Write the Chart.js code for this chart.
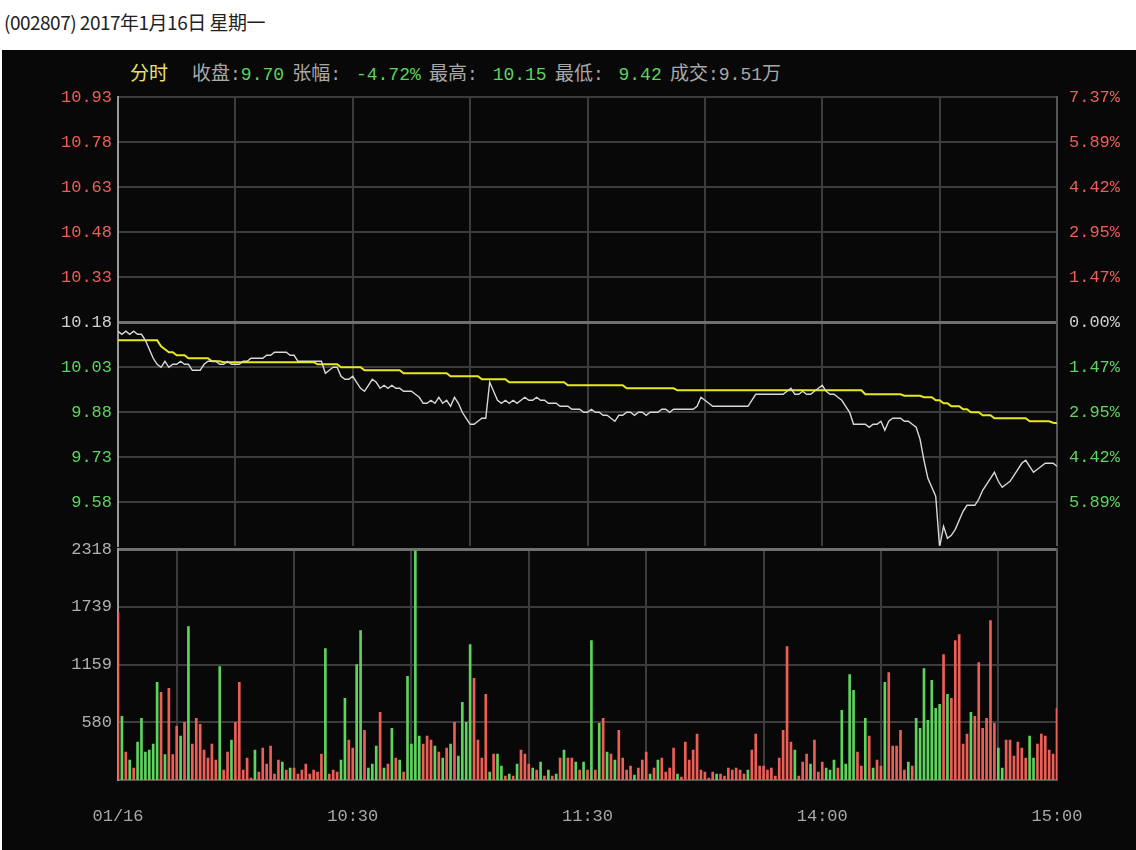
<!DOCTYPE html>
<html><head><meta charset="utf-8">
<script src="https://cdn.jsdelivr.net/npm/chart.js@4"></script>
<style>
body{margin:0;background:#fff;width:1136px;height:850px;overflow:hidden;position:relative;font-family:"Noto Sans CJK SC","Noto Sans",sans-serif}
#title{position:absolute;left:4px;top:8px;font-size:19px;color:#222;letter-spacing:-0.5px}
#panel{position:absolute;left:2px;top:50px;width:1134px;height:800px;background:#080808}
#hdr{position:absolute;left:130px;top:58px;font-size:19px;color:#a8a8a8;white-space:nowrap;word-spacing:4px}
#hdr .n{font-family:"Liberation Mono",monospace;font-size:18px}
#hdr .g{color:#5ed35e}
#hdr .y{color:#e6e070;margin-right:24px}
canvas{position:absolute;left:0}
</style></head><body>
<div id="title">(002807) 2017年1月16日 星期一</div>
<div id="panel"></div>
<div id="hdr"><span class="y">分时</span>收盘<span class="n">:</span><span class="n g">9.70</span> 张幅<span class="n">: </span><span class="n g">-4.72%</span> 最高<span class="n">: </span><span class="n g">10.15</span> 最低<span class="n">: </span><span class="n g">9.42</span> 成交<span class="n">:9.51</span>万</div>
<div style="position:absolute;left:0;top:81px;width:1136px;height:481px"><canvas id="c1"></canvas></div>
<div style="position:absolute;left:0;top:533px;width:1136px;height:317px"><canvas id="c2"></canvas></div>
<script>
const timeLabels=['01/16','','10:30','','11:30','','14:00','','15:00'];
const priceTicks=[10.93,10.78,10.63,10.48,10.33,10.18,10.03,9.88,9.73,9.58];
const pctLabels=['7.37%','5.89%','4.42%','2.95%','1.47%','0.00%','1.47%','2.95%','4.42%','5.89%'];
const volTicks=[580,1159,1739,2318];
const price=[10.15,10.14,10.15,10.14,10.15,10.14,10.14,
10.12,10.09,10.06,10.04,10.03,
10.05,10.03,10.04,10.04,10.05,10.04,10.04,
10.02,10.02,10.02,10.04,
10.05,10.05,10.05,10.04,10.04,10.05,10.04,10.04,10.04,10.05,
10.05,10.06,10.06,10.06,10.06,10.07,
10.07,10.08,10.08,10.08,10.08,10.07,10.07,
10.05,10.05,10.05,10.05,10.05,10.05,10.05,
10.01,10.02,10.03,10.03,
10.00,9.99,9.99,10.00,9.98,9.96,9.95,9.97,
9.99,9.98,9.96,9.97,9.96,9.97,9.96,
9.96,9.95,9.95,9.95,9.94,9.93,
9.91,9.91,9.92,9.91,9.93,9.91,9.92,9.90,9.93,9.91,
9.88,9.86,9.84,9.84,9.85,9.86,9.86,9.98,9.95,
9.92,9.91,9.92,9.91,9.92,9.91,9.92,9.93,9.92,9.92,9.93,9.92,9.92,9.91,9.91,
9.91,9.90,9.90,9.90,9.89,9.89,9.89,9.88,9.88,9.89,9.88,9.88,9.87,9.87,9.86,
9.85,9.87,9.87,9.88,9.88,9.87,9.88,9.88,9.87,9.88,9.88,9.88,9.89,9.89,9.88,9.89,9.89,9.89,9.89,9.89,9.89,
9.90,9.93,9.92,9.91,9.90,9.90,9.90,9.90,9.90,9.90,9.90,9.90,9.90,9.90,9.92,
9.94,9.94,9.94,9.94,9.94,9.94,9.94,9.94,9.95,9.96,9.94,9.94,9.95,9.94,9.94,9.95,9.96,
9.97,9.95,9.94,9.94,9.93,9.92,9.90,9.88,
9.84,9.84,9.84,9.84,9.83,9.84,9.84,9.85,9.82,9.85,9.86,9.86,9.86,9.85,9.85,9.84,
9.83,9.79,9.72,9.66,9.63,9.60,9.43,9.50,9.46,
9.47,9.49,9.52,9.55,9.57,9.57,9.57,9.59,9.62,9.64,9.66,
9.68,9.65,9.63,9.64,9.65,9.67,9.69,9.71,9.72,9.70,9.68,9.69,9.70,9.71,9.71,9.71,9.70];
const avgPrice=[10.12,10.12,10.12,10.12,10.12,10.12,10.12,10.12,10.12,10.12,10.12,
10.10,10.09,10.08,10.08,10.07,
10.07,10.07,10.06,10.06,10.06,10.06,10.06,10.06,10.05,10.05,10.05,
10.047,10.047,10.047,10.047,10.047,10.047,10.047,10.047,10.047,10.047,10.047,10.047,10.047,10.047,10.047,10.047,10.047,10.047,10.047,10.047,10.047,10.047,10.047,10.047,
10.04,10.04,10.04,10.04,10.04,10.04,10.03,10.03,10.03,10.03,10.03,10.03,
10.02,10.02,10.02,10.02,10.02,10.02,10.02,10.02,10.02,10.02,10.01,10.01,10.01,10.01,10.01,10.01,10.01,10.01,10.01,10.01,10.01,10.01,
10.00,10.00,10.00,10.00,10.00,10.00,10.00,10.00,9.99,9.99,9.99,9.99,9.99,9.99,9.99,
9.98,9.98,9.98,9.98,9.98,9.98,9.98,9.98,9.98,9.98,9.98,9.98,9.98,9.98,9.98,9.97,9.97,9.97,9.97,9.97,9.97,9.97,9.97,9.97,9.97,9.97,9.97,9.97,9.97,9.97,
9.96,9.96,9.96,9.96,9.96,9.96,9.96,9.96,9.96,9.96,9.96,9.96,9.96,
9.953,9.953,9.953,9.953,9.953,9.953,9.953,9.953,9.953,9.953,9.953,9.953,9.953,9.953,9.953,9.953,9.953,9.953,9.953,9.953,9.953,9.953,9.953,9.953,
9.953,9.953,9.953,9.953,9.953,9.953,9.953,9.953,9.953,9.953,9.953,9.953,9.953,9.953,9.953,9.953,9.953,9.953,9.953,9.953,9.953,9.953,9.953,9.953,
9.94,9.94,9.94,9.94,9.94,9.94,9.94,9.94,9.94,9.94,9.935,9.935,9.935,9.935,9.935,
9.93,9.93,9.93,9.92,9.92,9.91,9.91,9.90,9.90,9.90,
9.89,9.89,9.88,9.88,9.88,9.87,9.87,9.87,9.86,
9.86,9.86,9.86,9.86,9.86,9.86,9.86,9.86,9.85,9.85,9.85,9.85,9.85,9.85,9.845,9.843];
const volumes=[1683,640,280,200,120,380,620,280,300,360,
980,880,256,920,256,540,440,580,1540,360,
620,560,300,220,360,200,1140,100,280,400,
580,980,100,220,20,300,80,320,160,340,
60,200,180,100,120,120,60,100,160,60,
100,80,260,1320,60,100,80,200,820,400,
320,1160,1500,500,120,160,340,680,120,160,
520,220,200,80,1040,360,2300,440,360,440,
400,340,280,220,320,360,580,240,780,580,
1360,1020,400,220,860,80,260,260,140,40,
60,40,160,300,260,160,120,100,180,40,
100,40,60,220,300,220,220,180,100,
180,100,1400,100,570,620,280,260,200,500,
220,100,140,50,120,200,280,60,120,200,
220,80,120,320,60,30,380,200,300,460,
100,80,20,80,60,60,40,120,100,120,
100,60,100,300,460,140,140,100,120,40,
220,500,1340,380,300,40,180,260,160,400,
80,180,120,100,200,120,700,160,1060,900,
280,140,620,440,120,200,140,980,1080,340,
340,500,100,180,140,620,520,1120,600,1000,
720,760,1260,860,820,1400,1460,360,460,680,
640,1180,520,620,1600,570,320,120,400,400,
240,380,320,220,440,220,360,460,440,300,260,720];
const volColors=('rgrgrggggg'+'grgrrrgrgr'+'rrrrrrgrrg'+'rrrrrgrrrr'+'rrgrgrrrrr'+'rrrgrrrggr'+'rggrgggrgr'+'grgrggggrr'+'rgrgrgrggg'+'grrrrgrggr'+'grgrrrgrgr'+'grgrgrrgr'+
'grgrgrgrgr'+'rrrgrrrgrg'+'rrrrgrrrrr'+'rrrrgrrrrr'+'rrgrrrrrrr'+'rrrrgrrrgr'+'rrgggrgggg'+'rrgrgrrgrr'+'rrrgrggggg'+'ggrgrrrrrg'+'rrrrrrggrr'+'rrrrggrrrrrr').split('');

const GRID='#3c3c3c', SEP='#707070', RED='#ec5f57', GREEN='#5ed35e';
const FONT={family:'"Liberation Mono", monospace',size:17};
function fixW(w){return s=>{s.width=w;};}
const xTicks=s=>{s.ticks=timeLabels.map((l,i)=>({value:i*30}));};

new Chart(document.getElementById('c1'),{
 type:'line',
 data:{datasets:[
  {data:price.map((v,i)=>({x:i,y:v})),borderColor:'#d8d8d8',borderWidth:1.4,pointRadius:0,tension:0},
  {data:avgPrice.map((v,i)=>({x:i,y:v})),borderColor:'#e8e81c',borderWidth:2,pointRadius:0,tension:0}]},
 options:{responsive:true,maintainAspectRatio:false,animation:false,
  layout:{padding:{top:7,bottom:2,left:0,right:0}},
  plugins:{legend:{display:false},tooltip:{enabled:false}},
  scales:{
   x:{type:'linear',min:0,max:240,afterBuildTicks:xTicks,afterFit:s=>{s.height=0;},
      ticks:{display:false},grid:{color:GRID,lineWidth:2,drawTicks:false},border:{display:false}},
   y:{position:'left',min:9.435,max:10.93,afterFit:fixW(118),
      afterBuildTicks:s=>{s.ticks=priceTicks.map(v=>({value:v}));},
      ticks:{font:FONT,padding:6,callback:(v,i)=>priceTicks[i].toFixed(2),
        color:c=>{const v=priceTicks[c.index];return v>10.18?RED:(v<10.18?GREEN:'#d0d0d0');}},
      grid:{drawTicks:false,color:c=>priceTicks[c.index]===10.18?SEP:GRID,lineWidth:c=>priceTicks[c.index]===10.18?3:2},
      border:{color:'#9a9a9a',width:2}},
   y2:{position:'right',min:9.435,max:10.93,afterFit:fixW(79),
      afterBuildTicks:s=>{s.ticks=priceTicks.map(v=>({value:v}));},
      ticks:{font:FONT,padding:4,callback:(v,i)=>pctLabels[i],
        color:c=>{const v=priceTicks[c.index];return v>10.18?RED:(v<10.18?GREEN:'#d0d0d0');}},
      grid:{display:false},border:{color:'#555',width:2}}
  }}
});

new Chart(document.getElementById('c2'),{
 type:'bar',
 data:{datasets:[{data:volumes.map((v,i)=>({x:i,y:v})),
   backgroundColor:volColors.map(c=>c==='r'?RED:GREEN),barThickness:2,borderWidth:0}]},
 options:{responsive:true,maintainAspectRatio:false,animation:false,
  layout:{padding:{top:8,bottom:0,left:0,right:0}},
  plugins:{legend:{display:false},tooltip:{enabled:false}},
  scales:{
   x:{type:'linear',min:0,max:240,offset:false,afterBuildTicks:xTicks,afterFit:s=>{s.height=70;},
      ticks:{font:FONT,color:'#a8a8a8',padding:26,maxRotation:0,autoSkip:false,callback:(v,i)=>timeLabels[i]},
      grid:{color:GRID,lineWidth:2,drawTicks:false},border:{color:'#555',width:2}},
   y:{position:'left',min:0,max:2318,afterFit:fixW(118),
      afterBuildTicks:s=>{s.ticks=volTicks.map(v=>({value:v}));},
      ticks:{font:FONT,padding:6,color:'#b0b0b0',callback:(v,i)=>String(volTicks[i])},
      grid:{drawTicks:false,color:c=>volTicks[c.index]===2318?SEP:GRID,lineWidth:c=>volTicks[c.index]===2318?3:2},
      border:{color:'#9a9a9a',width:2}},
   y2:{position:'right',min:0,max:2318,afterFit:fixW(79),ticks:{display:false},grid:{display:false},border:{color:'#555',width:2}}
  }}
});
</script></body></html>
